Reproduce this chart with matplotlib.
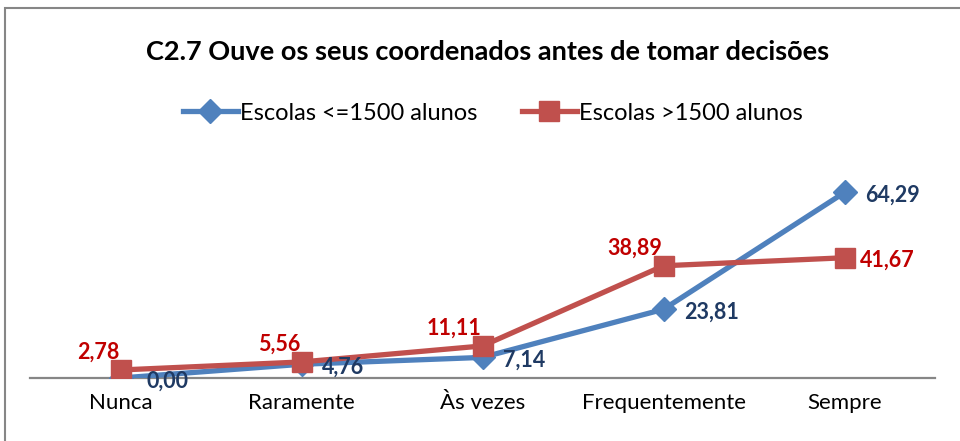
import matplotlib.pyplot as plt
from matplotlib.patches import Rectangle

plt.rcParams['font.family'] = ['Lato', 'DejaVu Sans']

categories = ["Nunca", "Raramente", "Às vezes", "Frequentemente", "Sempre"]
small_schools = [0.00, 4.76, 7.14, 23.81, 64.29]
large_schools = [2.78, 5.56, 11.11, 38.89, 41.67]

title = "C2.7 Ouve os seus coordenados antes de tomar decisões"
label_small = "Escolas <=1500 alunos"
label_large = "Escolas >1500 alunos"

blue = "#4F81BD"
red = "#C0504D"
blue_txt = "#1F3A63"
red_txt = "#C00000"


def fmt(v):
    return f"{v:.2f}".replace(".", ",")


fig = plt.figure(figsize=(9.6, 4.41), dpi=100)
ax = fig.add_axes([30 / 960, 1 - 378 / 441, 905 / 960, 202 / 441])

x = list(range(len(categories)))
ax.plot(x, small_schools, color=blue, lw=3.8, marker="D", ms=12,
        label=label_small, zorder=3)
ax.plot(x, large_schools, color=red, lw=3.8, marker="s", ms=14,
        label=label_large, zorder=4)

ax.set_xlim(-0.5, len(categories) - 0.5)
ax.set_ylim(0, 70)
ax.set_yticks([])
ax.set_xticks(x)
ax.set_xticklabels(categories, fontsize=16)
ax.tick_params(axis="x", length=0, pad=11)
for s in ["top", "right", "left"]:
    ax.spines[s].set_visible(False)
ax.spines["bottom"].set_color("#868686")
ax.spines["bottom"].set_linewidth(1.6)

# blue labels sit right of the point, red ones up-left (last one to the right)
for i, v in enumerate(small_schools):
    dx = 19 if i == 0 else 15
    ax.annotate(fmt(v), (i, v), xytext=(dx, -2), textcoords="offset points",
                ha="left", va="center", fontsize=15.5, fontweight="bold",
                color=blue_txt, zorder=5)
for i, v in enumerate(large_schools):
    if i == len(large_schools) - 1:
        off, ha = (11, -2), "left"
    else:
        off, ha = (-1, 13), "right"
    ax.annotate(fmt(v), (i, v), xytext=off, textcoords="offset points",
                ha=ha, va="center", fontsize=15.5, fontweight="bold",
                color=red_txt, zorder=5)

fig.text(488 / 960, 1 - 52 / 441, title, ha="center", va="center",
         fontsize=19.5, fontweight="bold")

fig.legend(loc="center", bbox_to_anchor=(493 / 960, 1 - 113 / 441), ncol=2,
           frameon=False, fontsize=17, handlelength=2.3, columnspacing=1.9,
           handletextpad=0.1)

fig.add_artist(Rectangle((5 / 960, -0.1), 1.2, 1.1 - 8 / 441,
                         transform=fig.transFigure, fill=False,
                         edgecolor="#868686", lw=1.5))

fig.savefig("out.png", dpi=100)
